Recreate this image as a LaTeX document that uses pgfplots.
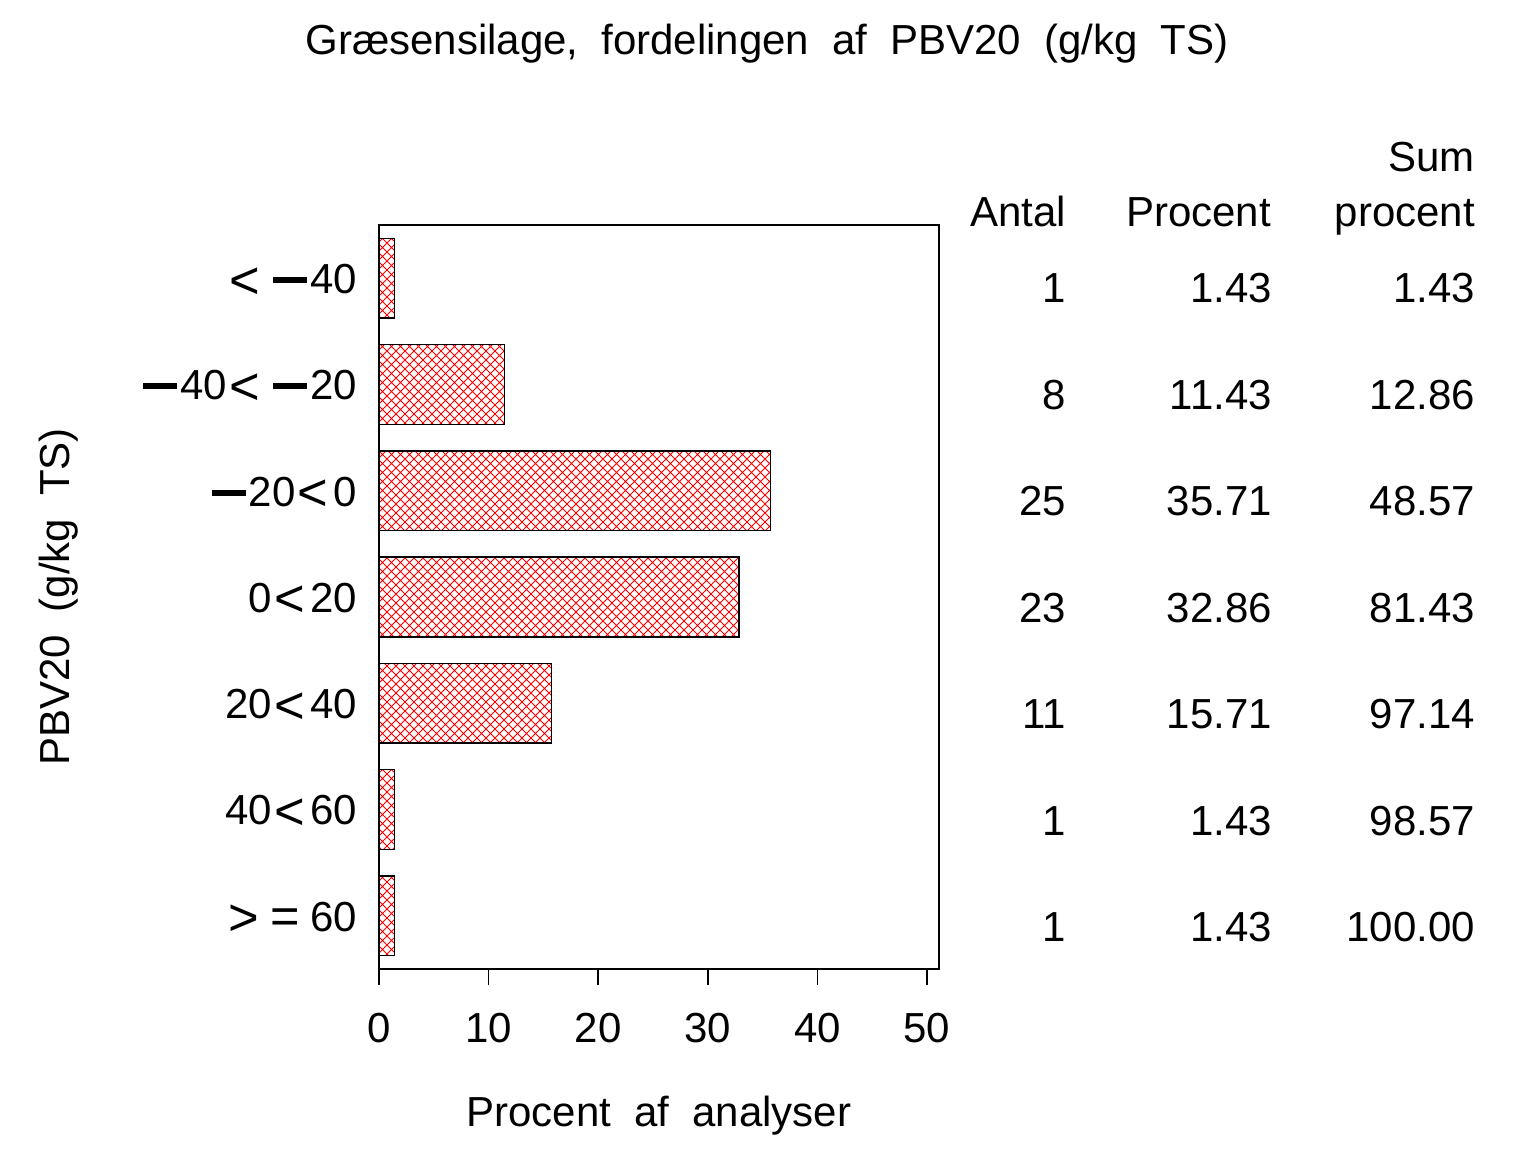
\documentclass[border=0pt]{standalone}
\usepackage{fontspec}
\setmainfont{Liberation Sans}
\usepackage{pgfplots}
\pgfplotsset{compat=1.18}
\usetikzlibrary{patterns}
\pgfdeclarepatternformonly{diamonds}{\pgfpoint{-1bp}{-1bp}}{\pgfpoint{10bp}{10bp}}{\pgfpoint{9bp}{9bp}}{%
  \pgfsetlinewidth{0.9bp}%
  \pgfpathmoveto{\pgfpoint{0bp}{0bp}}\pgfpathlineto{\pgfpoint{9bp}{9bp}}%
  \pgfpathmoveto{\pgfpoint{0bp}{9bp}}\pgfpathlineto{\pgfpoint{9bp}{0bp}}%
  \pgfusepath{stroke}}
\newcommand\mn{\rule[0.25em]{0.8em}{0.14em}}
\newcommand\lt{\kern0.05em\raisebox{-0.11em}{\scalebox{1.25}{<}}}
\newcommand\gt{\raisebox{-0.11em}{\scalebox{1.25}{>}}}
\newcommand\eq{\raisebox{-0.06em}{\scalebox{1.2}{=}}}
\newcommand\fs{\fontsize{42bp}{48bp}\selectfont\spaceskip=0.55em plus 0pt minus 0pt\relax}
\begin{document}
\begin{tikzpicture}[x=1bp,y=1bp]
\path[use as bounding box] (0,0) rectangle (1536,1152);
\begin{axis}[
  at={(379bp,183bp)}, anchor=south west,
  width=560bp, height=744bp, scale only axis,
  xmin=0, xmax=51.1, ymin=0.5, ymax=7.5, y dir=reverse,
  xtick={0,10,20,30,40,50},
  ytick={1,2,3,4,5,6,7},
  yticklabels={{\lt\hspace{0.32em}\mn\kern0.08em40},{\mn\kern0.08em40\lt\hspace{0.32em}\mn\kern0.08em20},{\mn\kern0.08em20\lt\kern0.12em0},{0\lt\kern0.12em20},{20\lt\kern0.12em40},{40\lt\kern0.12em60},{\gt\kern0.25em\eq\kern0.25em60}},
  axis line style={line width=1.5bp},
  every tick/.style={line width=1.5bp, black},
  x tick style={line width=1.5bp},
  xtick align=outside, major tick length=16bp,
  xtick pos=bottom,
  ytick style={draw=none},
  ticklabel style={font=\fs},
  /pgf/number format/assume math mode=true,
  xticklabel style={anchor=base, inner sep=0pt, yshift=-57bp},
  yticklabel style={anchor=east, inner sep=0pt, xshift=-6bp, yshift=-3bp},
  xbar, bar width=0.75,
  clip=false,
]
\addplot[draw=black, line width=1.3bp, pattern=diamonds, pattern color=red] coordinates {
(1.43,1) (11.43,2) (35.71,3) (32.86,4) (15.71,5) (1.43,6) (1.43,7)};
\end{axis}
% title and axis labels
\node[anchor=base, font=\fs] at (767,1097) {Græsensilage, fordelingen af PBV20 (g/kg TS)};
\node[anchor=base, font=\fs] at (659,26) {Procent af analyser};
\node[anchor=base, rotate=90, font=\fs] at (69,555) {PBV20 (g/kg TS)};
% table
\begin{scope}[every node/.style={anchor=base east, font=\fs, inner sep=0pt}]
\node at (1475,980) {Sum};
\node at (1066,925) {Antal};
\node at (1271,925) {Procent};
\node at (1475,925) {procent};
\foreach \a/\b/\c [count=\i from 0] in {1/1.43/1.43, 8/11.43/12.86, 25/35.71/48.57, 23/32.86/81.43, 11/15.71/97.14, 1/1.43/98.57, 1/1.43/100.00}{
  \pgfmathsetmacro\yy{1152-303-106.4*\i}
  \node at (1066,\yy) {\a};
  \node at (1272,\yy) {\b};
  \node at (1475,\yy) {\c};
}
\end{scope}
\end{tikzpicture}
\end{document}
